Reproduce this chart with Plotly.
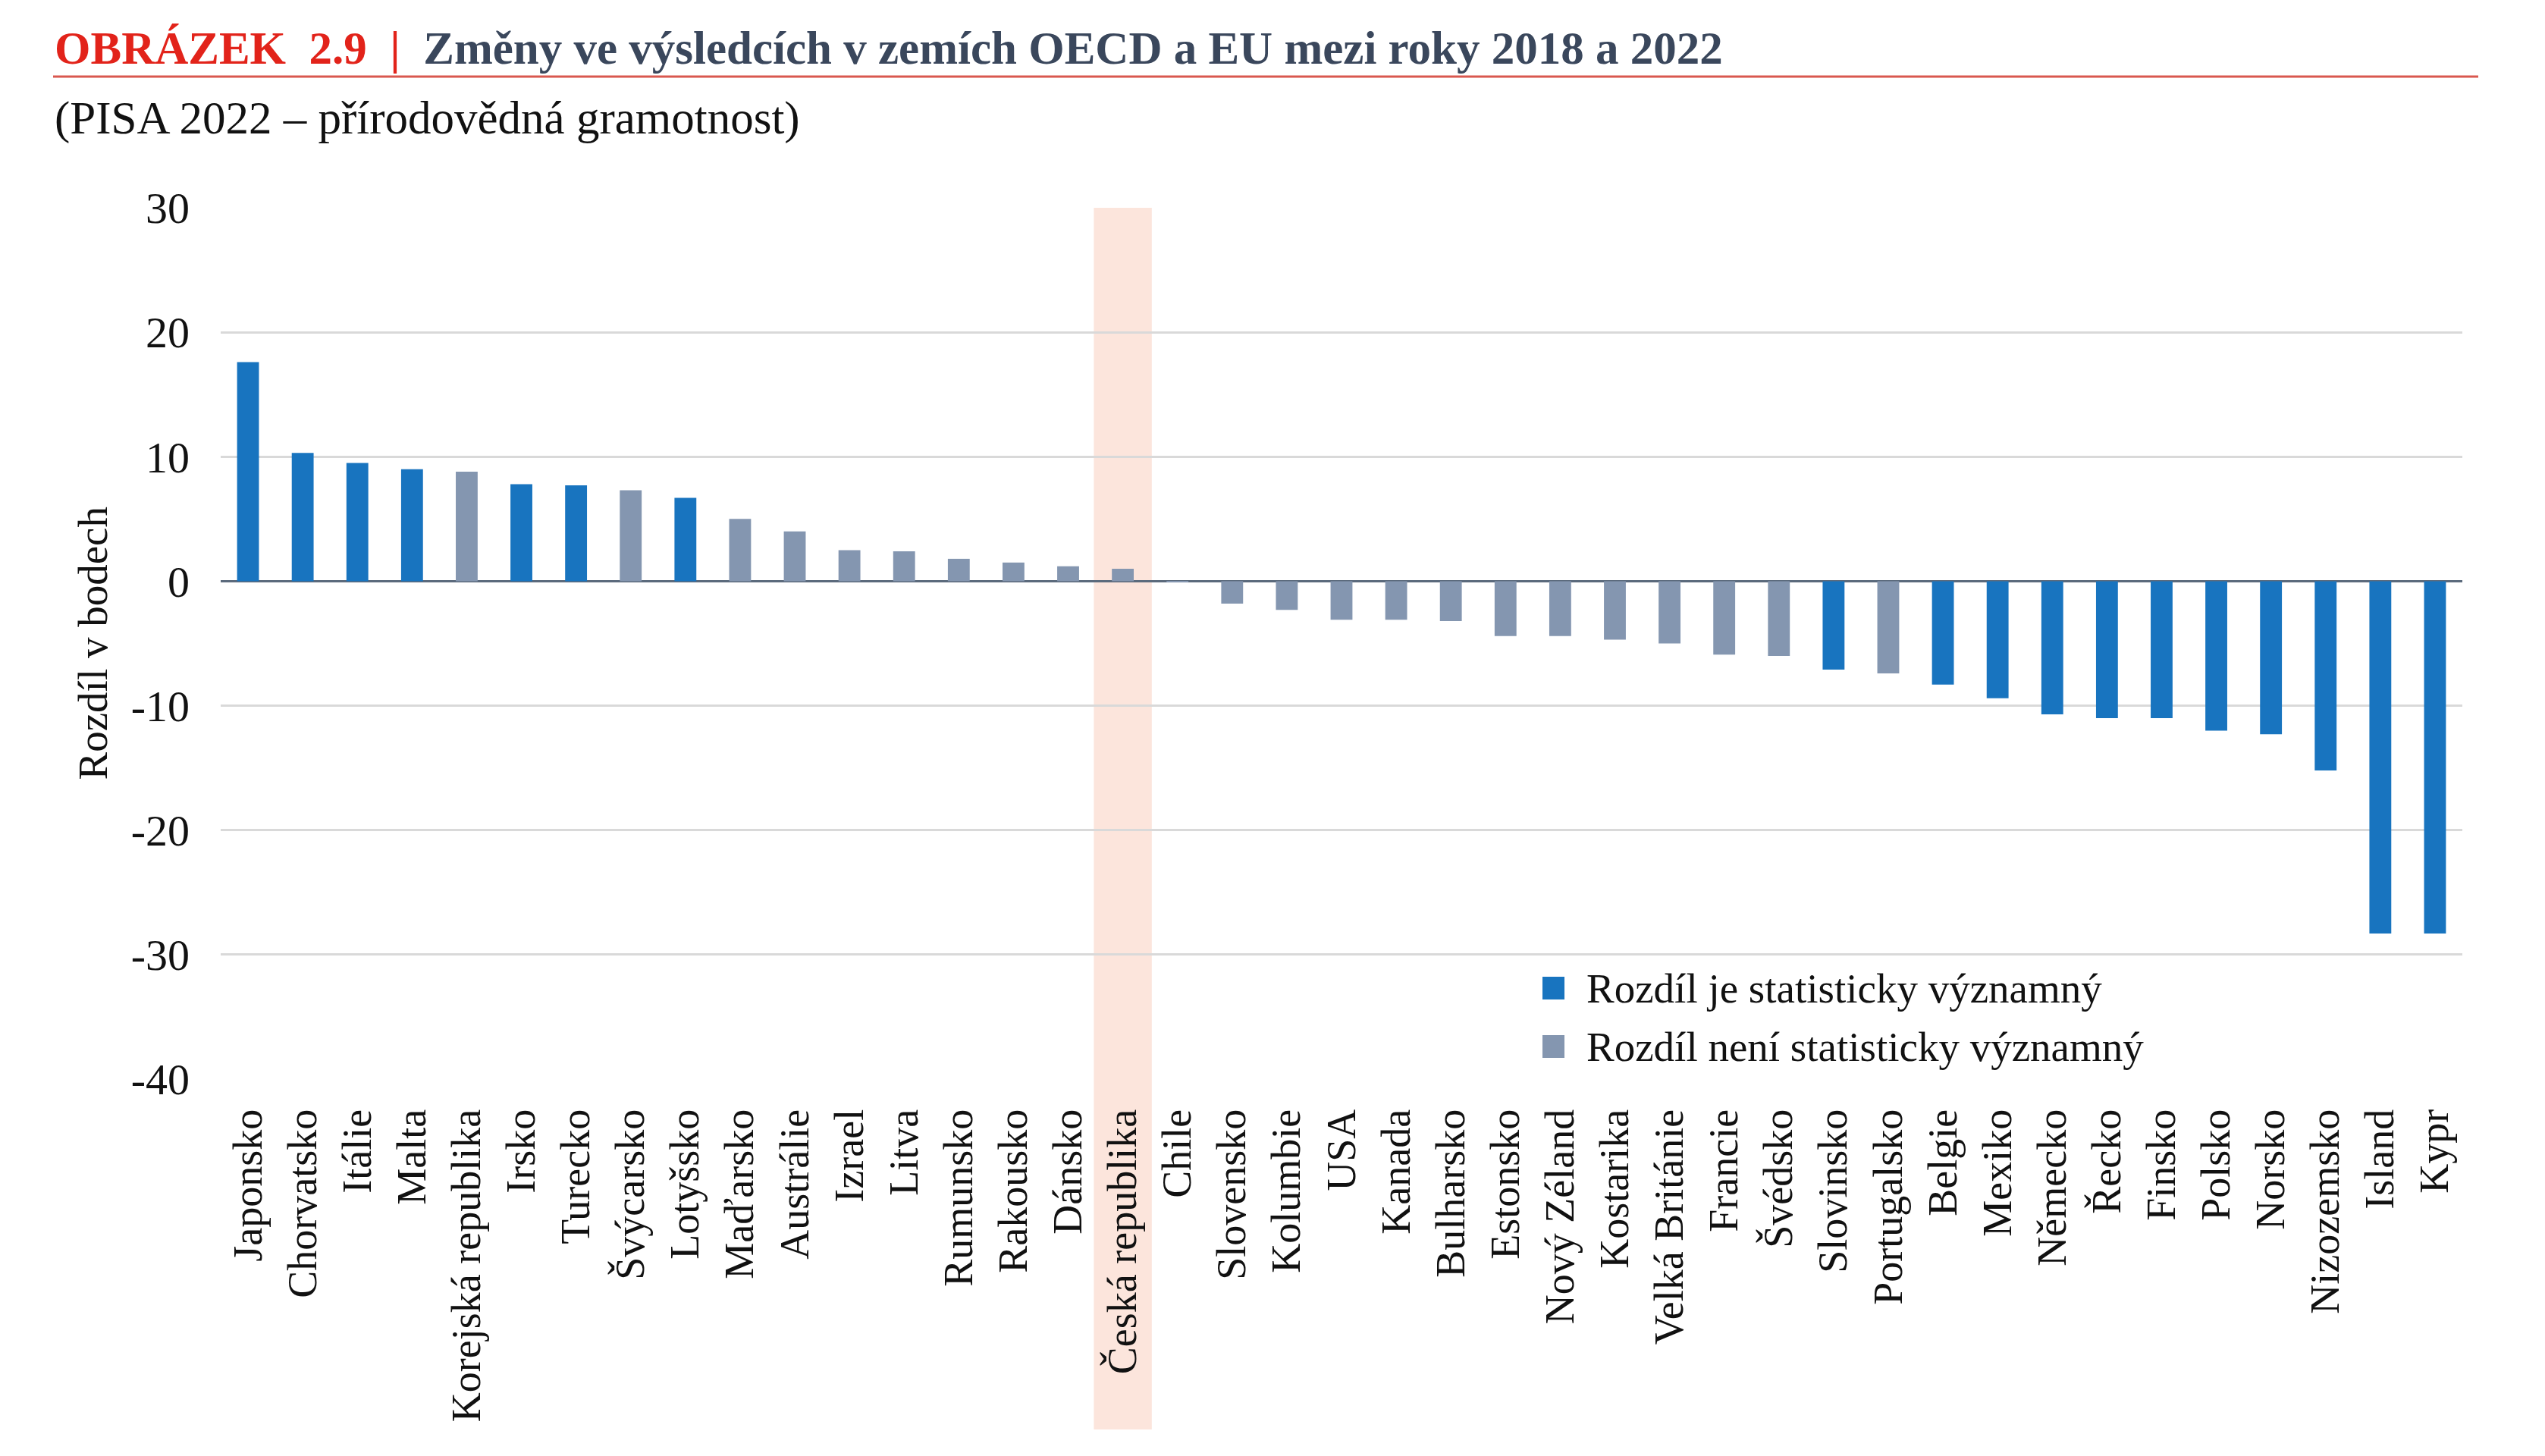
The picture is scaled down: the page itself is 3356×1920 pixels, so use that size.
import plotly.graph_objects as go

countries = ["Japonsko", "Chorvatsko", "Itálie", "Malta", "Korejská republika", "Irsko", "Turecko",
             "Švýcarsko", "Lotyšsko", "Maďarsko", "Austrálie", "Izrael", "Litva", "Rumunsko",
             "Rakousko", "Dánsko", "Česká republika", "Chile", "Slovensko", "Kolumbie", "USA",
             "Kanada", "Bulharsko", "Estonsko", "Nový Zéland", "Kostarika", "Velká Británie",
             "Francie", "Švédsko", "Slovinsko", "Portugalsko", "Belgie", "Mexiko", "Německo",
             "Řecko", "Finsko", "Polsko", "Norsko", "Nizozemsko", "Island", "Kypr"]
values = [17.6, 10.3, 9.5, 9.0, 8.8, 7.8, 7.7, 7.3, 6.7, 5.0, 4.0, 2.5, 2.4, 1.8, 1.5, 1.2, 1.0,
          -0.1, -1.8, -2.3, -3.1, -3.1, -3.2, -4.4, -4.4, -4.7, -5.0, -5.9, -6.0, -7.1, -7.4,
          -8.3, -9.4, -10.7, -11.0, -11.0, -12.0, -12.3, -15.2, -28.3, -28.3]
significant = [1, 1, 1, 1, 0, 1, 1, 0, 1, 0, 0, 0, 0, 0, 0, 0, 0,
               0, 0, 0, 0, 0, 0, 0, 0, 0, 0, 0, 0, 1, 0,
               1, 1, 1, 1, 1, 1, 1, 1, 1, 1]
highlight = "Česká republika"
y_ticks = [30, 20, 10, 0, -10, -20, -30, -40]

title_red = "OBRÁZEK  2.9"
title_main = "Změny ve výsledcích v zemích OECD a EU mezi roky 2018 a 2022"
subtitle = "(PISA 2022 – přírodovědná gramotnost)"
y_title = "Rozdíl v bodech"
leg_sig = "Rozdíl je statisticky významný"
leg_nsig = "Rozdíl není statisticky významný"

BLUE = "#1874BF"
GRAY = "#8496B0"
FONT = "Liberation Serif"

sig_vals = [v if s else None for v, s in zip(values, significant)]
nsig_vals = [v if not s else None for v, s in zip(values, significant)]

fig = go.Figure()
fig.add_trace(go.Bar(x=countries, y=sig_vals, name=leg_sig, marker=dict(color=BLUE, line=dict(width=0))))
fig.add_trace(go.Bar(x=countries, y=nsig_vals, name=leg_nsig, marker=dict(color=GRAY, line=dict(width=0))))

W, H = 3356, 1920
L, R, T, B = 291, 109, 274, 497
pw, ph = W - L - R, H - T - B

def px(xp):
    return (xp - L) / pw

def py(yp):
    return (H - B - yp) / ph

hi = countries.index(highlight)
fig.add_shape(type="rect", xref="x", yref="paper", x0=hi - 0.53, x1=hi + 0.53,
              y0=py(1885), y1=1.0, fillcolor="#FCE5DC", line=dict(width=0), layer="below")

# red rule under title
fig.add_shape(type="line", xref="paper", yref="paper", x0=px(70), x1=px(3268), y0=py(101), y1=py(101),
              line=dict(color="#D9584F", width=3))

fig.add_annotation(xref="paper", yref="paper", x=px(70), y=py(64), xanchor="left", yanchor="middle",
                   showarrow=False,
                   text=f"<b><span style='color:#E2231A'>{title_red}  |  </span>"
                        f"<span style='color:#3A475C'>{title_main}</span></b>",
                   font=dict(family=FONT, size=61))
fig.add_annotation(xref="paper", yref="paper", x=px(70), y=py(156), xanchor="left", yanchor="middle",
                   showarrow=False, text=subtitle, font=dict(family=FONT, size=61, color="#111111"))
fig.add_annotation(xref="paper", yref="paper", x=px(122), y=0.5, xanchor="center", yanchor="middle",
                   showarrow=False, text=y_title, textangle=-90, font=dict(family=FONT, size=55, color="#111111"))

# manual legend
legend_items = [(leg_sig, BLUE, 1303), (leg_nsig, GRAY, 1380)]
for label, col, yc in legend_items:
    fig.add_shape(type="rect", xref="paper", yref="paper", x0=px(2034), x1=px(2063),
                  y0=py(yc + 15), y1=py(yc - 15), fillcolor=col, line=dict(width=0))
    fig.add_annotation(xref="paper", yref="paper", x=px(2090), y=py(yc), xanchor="left", yanchor="middle",
                       showarrow=False, text=label, font=dict(family=FONT, size=55, color="#111111"))

fig.update_layout(
    width=W, height=H,
    margin=dict(l=L, r=R, t=T, b=B, autoexpand=False),
    paper_bgcolor="white", plot_bgcolor="white",
    barmode="overlay", bargap=0.6,
    font=dict(family=FONT, size=50, color="#111111"),
    showlegend=False,
)
fig.update_xaxes(type="category", tickangle=-90, showgrid=False, zeroline=False, showline=False,
                 ticks="", ticklabelstandoff=28, tickfont=dict(family=FONT, size=54, color="#111111"),
                 range=[-0.5, len(countries) - 0.5])
fig.update_yaxes(range=[-40, 30], tickvals=y_ticks, ticktext=[str(t) for t in y_ticks],
                 showgrid=True, gridcolor="#D9D9D9", gridwidth=3,
                 zeroline=True, zerolinecolor="#5B6A7C", zerolinewidth=3, showline=False,
                 ticks="", ticklabelstandoff=40, tickfont=dict(family=FONT, size=58, color="#111111"))

fig.write_html("out.html")
